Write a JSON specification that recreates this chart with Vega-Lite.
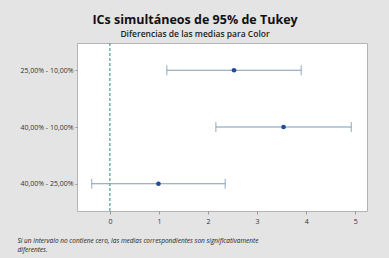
{
  "$schema": "https://vega.github.io/schema/vega-lite/v6.json",
  "autosize": {"type": "none"},
  "width": 290,
  "height": 168,
  "padding": {"left": 77, "top": 43, "right": 22, "bottom": 47},
  "background": "#e4e4e4",
  "config": {
    "view": {"fill": "white", "stroke": "#b4b4b4", "strokeWidth": 1},
    "font": "Open Sans"
  },
  "title": {
    "text": "ICs simultáneos de 95% de Tukey",
    "subtitle": "Diferencias de las medias para Color",
    "anchor": "middle",
    "dx": -27,
    "fontSize": 12.5,
    "fontWeight": "bold",
    "font": "Open Sans",
    "color": "#111111",
    "subtitleFontSize": 8.5,
    "subtitleFontWeight": 600,
    "subtitleFont": "Open Sans",
    "subtitleColor": "#222222",
    "subtitlePadding": 3,
    "offset": 4
  },
  "data": {
    "values": [
      {"par": "25,00% - 10,00%", "lo": 1.16, "dif": 2.53, "hi": 3.9},
      {"par": "40,00% - 10,00%", "lo": 2.16, "dif": 3.54, "hi": 4.92},
      {"par": "40,00% - 25,00%", "lo": -0.37, "dif": 0.99, "hi": 2.35}
    ]
  },
  "encoding": {
    "y": {
      "field": "par",
      "type": "nominal",
      "sort": null,
      "scale": {"type": "point", "padding": 0.48},
      "axis": {
        "title": null,
        "domain": false,
        "labelFontSize": 7,
        "labelColor": "#333333",
        "labelPadding": 2,
        "tickSize": 2,
        "tickColor": "#999999",
        "grid": false
      }
    }
  },
  "layer": [
    {
      "mark": {"type": "rule", "color": "#4f9a92", "strokeDash": [3, 2], "strokeWidth": 1.2},
      "data": {"values": [{"cero": 0}]},
      "encoding": {
        "x": {"field": "cero", "type": "quantitative"},
        "y": null
      }
    },
    {
      "mark": {"type": "rule", "color": "#7f9ab5", "strokeWidth": 1.2},
      "encoding": {
        "x": {
          "field": "lo",
          "type": "quantitative",
          "scale": {"domain": [-0.67, 5.24], "nice": false, "zero": false},
          "axis": {
            "values": [0, 1, 2, 3, 4, 5],
            "domain": false,
            "grid": false,
            "labelFontSize": 7,
            "labelColor": "#333333",
            "tickSize": 3,
            "tickColor": "#999999",
            "labelPadding": 3,
            "title": ["Si un intervalo no contiene cero, las medias correspondientes son significativamente", "diferentes."],
            "titleFontSize": 6.5,
            "titleFontStyle": "italic",
            "titleFontWeight": "normal",
            "titleColor": "#222222",
            "titleAnchor": "start",
            "titleAlign": "left",
            "titleX": -60,
            "titleY": 31,
            "titleBaseline": "alphabetic",
            "titleLineHeight": 9.5
          }
        },
        "x2": {"field": "hi"}
      }
    },
    {
      "mark": {"type": "tick", "color": "#7f9ab5", "orient": "vertical", "size": 10, "thickness": 1.2},
      "encoding": {"x": {"field": "lo", "type": "quantitative"}}
    },
    {
      "mark": {"type": "tick", "color": "#7f9ab5", "orient": "vertical", "size": 10, "thickness": 1.2},
      "encoding": {"x": {"field": "hi", "type": "quantitative"}}
    },
    {
      "mark": {"type": "circle", "color": "#1d4e96", "size": 22, "opacity": 1},
      "encoding": {"x": {"field": "dif", "type": "quantitative"}}
    }
  ]
}
